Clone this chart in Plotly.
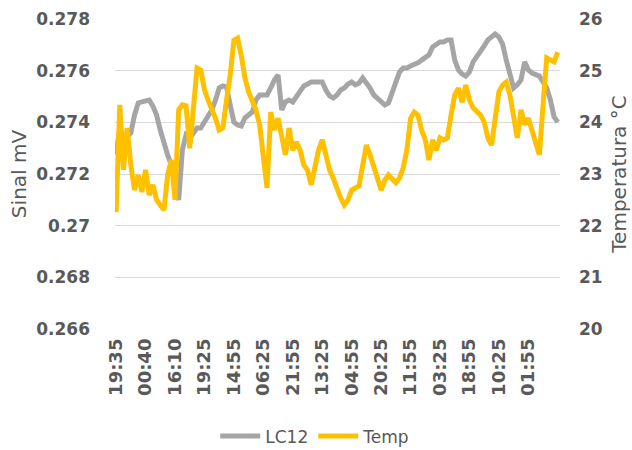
import plotly.graph_objects as go

# Time-axis labels (one every 8 readings)
tick_labels = ["19:35", "00:40", "16:10", "19:25", "14:55", "06:25", "21:55", "13:25",
               "04:55", "20:25", "11:55", "03:25", "18:55", "10:25", "01:55"]
label_step = 8

# LC12 signal (mV)
lc12 = [0.27274, 0.27378, 0.27332, 0.27347, 0.27359, 0.27428, 0.27475, 0.27479, 0.27483, 0.27486,
        0.27463, 0.27428, 0.27370, 0.27312, 0.27274, 0.27235, 0.27157, 0.27099, 0.27293, 0.27351,
        0.27339, 0.27363, 0.27378, 0.27378, 0.27401, 0.27428, 0.27448, 0.27486, 0.27533, 0.27541,
        0.27537, 0.27467, 0.27401, 0.27390, 0.27386, 0.27417, 0.27428, 0.27440, 0.27486, 0.27506,
        0.27506, 0.27506, 0.27533, 0.27564, 0.27583, 0.27448, 0.27479, 0.27486, 0.27479, 0.27498,
        0.27517, 0.27541, 0.27548, 0.27556, 0.27556, 0.27556, 0.27556, 0.27525, 0.27502, 0.27494,
        0.27506, 0.27525, 0.27533, 0.27548, 0.27556, 0.27545, 0.27552, 0.27572, 0.27556, 0.27533,
        0.27506, 0.27494, 0.27479, 0.27467, 0.27475, 0.27517, 0.27556, 0.27595, 0.27610, 0.27610,
        0.27618, 0.27622, 0.27630, 0.27641, 0.27649, 0.27661, 0.27692, 0.27703, 0.27711, 0.27711,
        0.27719, 0.27719, 0.27641, 0.27603, 0.27587, 0.27579, 0.27595, 0.27634, 0.27653, 0.27672,
        0.27696, 0.27719, 0.27734, 0.27742, 0.27730, 0.27703, 0.27641, 0.27583, 0.27533, 0.27545,
        0.27564, 0.27634, 0.27603, 0.27591, 0.27587, 0.27579, 0.27556, 0.27533, 0.27486, 0.27421,
        0.27401]

# Temperature (°C)
temp = [22.26, 24.34, 23.08, 23.89, 23.17, 22.69, 22.98, 22.65, 23.08, 22.59,
        22.79, 22.50, 22.40, 22.30, 22.98, 23.27, 22.50, 24.24, 24.34, 24.32,
        23.50, 24.24, 25.05, 25.01, 24.63, 24.43, 24.28, 24.08, 23.85, 23.89,
        24.43, 24.92, 25.59, 25.63, 25.30, 24.86, 24.59, 24.43, 24.24, 23.95,
        23.37, 22.73, 24.20, 23.85, 24.08, 23.66, 23.37, 23.89, 23.46, 23.62,
        23.46, 23.17, 23.08, 22.79, 23.17, 23.46, 23.66, 23.37, 23.08, 22.92,
        22.69, 22.54, 22.40, 22.50, 22.69, 22.73, 22.77, 23.17, 23.56, 23.37,
        23.17, 22.92, 22.69, 22.88, 22.98, 22.92, 22.83, 22.92, 23.12, 23.46,
        24.08, 24.20, 24.14, 23.85, 23.66, 23.27, 23.66, 23.46, 23.70, 23.66,
        23.70, 24.14, 24.53, 24.66, 24.39, 24.72, 24.43, 24.28, 24.20, 24.14,
        24.01, 23.70, 23.56, 24.05, 24.59, 24.72, 24.78, 24.53, 24.14, 23.70,
        24.24, 23.95, 24.08, 23.85, 23.66, 23.37, 24.34, 25.25, 25.21, 25.17,
        25.36]

idx = list(range(len(lc12)))
tick_pos = [i * label_step for i in range(len(tick_labels))]

txt = "#595959"
grid = "#D9D9D9"
font_main = "DejaVu Sans, sans-serif"

fig = go.Figure()
fig.add_trace(go.Scatter(x=idx, y=lc12, name="LC12", mode="lines",
                         line=dict(color="#A5A5A5", width=5), yaxis="y"))
fig.add_trace(go.Scatter(x=idx, y=temp, name="Temp", mode="lines",
                         line=dict(color="#FFC000", width=5), yaxis="y2"))

fig.update_layout(
    width=632, height=450,
    margin=dict(l=115, r=72, t=19, b=121, autoexpand=False),
    paper_bgcolor="white", plot_bgcolor="white",
    font=dict(family=font_main, color=txt, size=16),
    showlegend=True,
    legend=dict(orientation="h", x=0.45, xanchor="center",
                yref="container", y=0.03, yanchor="middle",
                font=dict(size=17, color=txt), itemwidth=40, tracegroupgap=0),
    xaxis=dict(
        range=[-0.3, 120.6], tickmode="array", tickvals=tick_pos, ticktext=tick_labels,
        tickangle=-90, showgrid=False, zeroline=False, showline=False, ticks="",
        ticklabelstandoff=5, automargin=False,
        tickfont=dict(size=18, color=txt, family=font_main, weight="bold"),
    ),
    yaxis=dict(
        range=[0.266, 0.278], tickmode="array",
        tickvals=[0.266, 0.268, 0.27, 0.272, 0.274, 0.276, 0.278],
        ticktext=["0.266", "0.268", "0.27", "0.272", "0.274", "0.276", "0.278"],
        showgrid=True, gridcolor=grid, gridwidth=1, zeroline=False, showline=False,
        ticklabelstandoff=24, automargin=False,
        tickfont=dict(size=17, color=txt, family=font_main, weight="bold"),
        title=dict(text="Sinal mV", font=dict(size=20, color=txt, family=font_main), standoff=4),
    ),
    yaxis2=dict(
        range=[20, 26], overlaying="y", side="right", tickmode="array",
        tickvals=[20, 21, 22, 23, 24, 25, 26],
        showgrid=False, zeroline=False, showline=False,
        ticklabelstandoff=18, automargin=False,
        tickfont=dict(size=17, color=txt, family=font_main, weight="bold"),
        title=dict(text="Temperatura °C", font=dict(size=20, color=txt, family=font_main), standoff=10),
    ),
)

fig.write_html("out.html")
